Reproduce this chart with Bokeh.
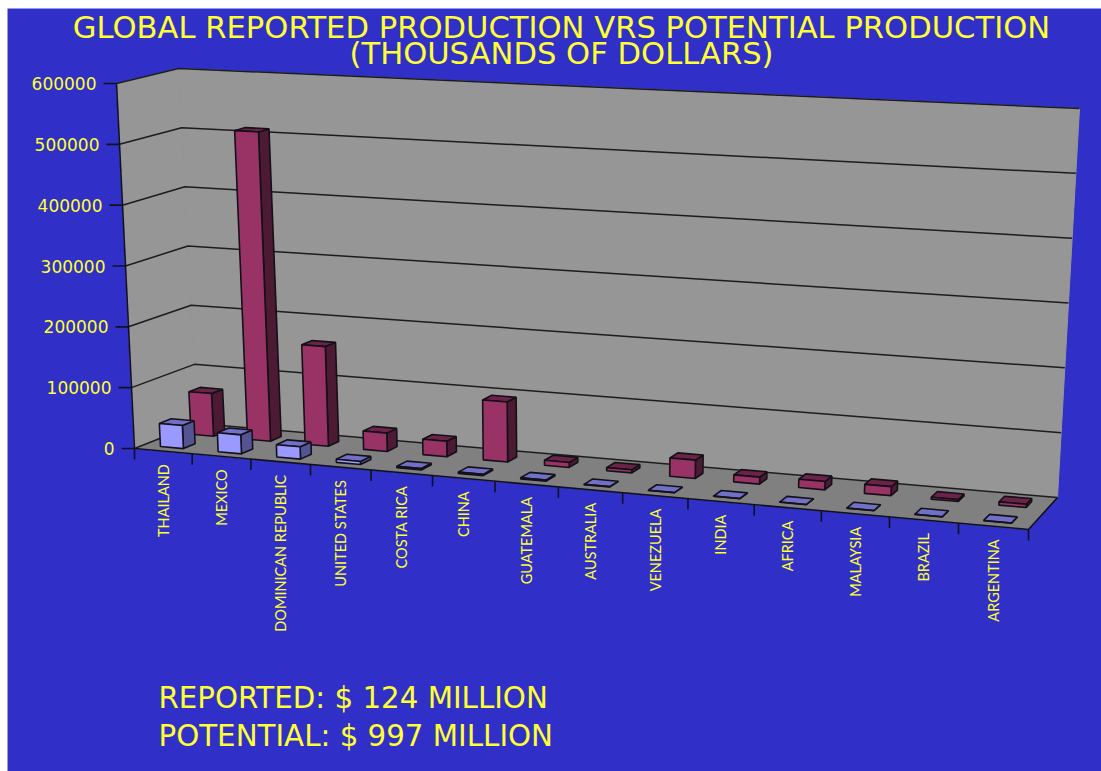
from bokeh.plotting import figure
from bokeh.models import Range1d
from bokeh.core.properties import value
from bokeh.embed import file_html
from bokeh.resources import INLINE

categories = ["THAILAND", "MEXICO", "DOMINICAN REPUBLIC", "UNITED STATES", "COSTA RICA", "CHINA",
              "GUATEMALA", "AUSTRALIA", "VENEZUELA", "INDIA", "AFRICA", "MALAYSIA", "BRAZIL", "ARGENTINA"]
reported = [38000, 31000, 20000, 5000, 2500, 2000, 2000, 500, 300, 300, 300, 300, 300, 300]
potential = [71000, 512000, 164000, 30000, 25000, 97000, 8000, 5000, 29000, 11000, 13000, 14000, 3000, 5000]
y_ticks = [0, 100000, 200000, 300000, 400000, 500000, 600000]
y_max = 600000
title_lines = ["GLOBAL REPORTED PRODUCTION VRS POTENTIAL PRODUCTION", "(THOUSANDS OF DOLLARS)"]
notes = ["REPORTED: $ 124 MILLION", "POTENTIAL: $ 997 MILLION"]

BG, YEL = "#3030c8", "#ffff33"
W, H = 1101, 771
L, T = 7, 8
# projection of the chart box onto the page: (u along categories, v depth, w value fraction)
FLB, FRB = (134, 448), (1028, 529)
BLB, BRB = (197, 423), (1057, 497)
FLT, BLT, BRT = (116, 83), (178, 68), (1079, 108)
FRT = tuple(FRB[i] + (FLT[i] - FLB[i]) + (BRT[i] - BRB[i]) - (BLT[i] - BLB[i]) for i in (0, 1))


def warp(u):
    return 0.8965 * u + 0.1035 * u * u


def P(k, v, val):
    s = warp(k / len(categories))
    w = val / y_max
    out = []
    for i in (0, 1):
        b = (1 - s) * ((1 - v) * FLB[i] + v * BLB[i]) + s * ((1 - v) * FRB[i] + v * BRB[i])
        t = (1 - s) * ((1 - v) * FLT[i] + v * BLT[i]) + s * ((1 - v) * FRT[i] + v * BRT[i])
        out.append(b + (t - b) * w)
    return out


def poly(points):
    return [q[0] for q in points], [q[1] for q in points]


p = figure(width=W, height=H, x_range=Range1d(L, W), y_range=Range1d(H, T),
           output_backend="svg", toolbar_location=None,
           min_border_left=L, min_border_top=T, min_border_right=0, min_border_bottom=0,
           background_fill_color=BG, border_fill_color="#ffffff", outline_line_color=None)
p.axis.visible = False
p.grid.visible = False

n = len(categories)


def draw(points, fill, line=None, width=1.6):
    xs, ys = poly(points)
    p.patch(xs, ys, fill_color=fill, line_color=line, line_width=width)


# walls and floor
draw([P(0, 0, 0), P(0, 1, 0), P(n, 1, 0), P(n, 0, 0)], "#808080", "#808080", 1)
draw([P(0, 0, 0), P(0, 1, 0), P(0, 1, y_max), P(0, 0, y_max)], "#969696", "#969696", 1)
draw([P(0, 1, 0), P(n, 1, 0), P(n, 1, y_max), P(0, 1, y_max)], "#969696", "#969696", 1)

# gridlines
gx, gy = [], []
for t in y_ticks:
    xs, ys = poly([P(0, 0, t), P(0, 1, t), P(n, 1, t)])
    gx.append(xs)
    gy.append(ys)
p.multi_line(gx, gy, line_color="#1c1c1c", line_width=1.5)

# axis lines and tick marks
ax, ay = [], []
ax.append([P(0, 0, 0)[0], P(0, 0, y_max)[0]])
ay.append([P(0, 0, 0)[1], P(0, 0, y_max)[1]])
ax.append([P(0, 0, 0)[0], P(n, 0, 0)[0], P(n, 1, 0)[0]])
ay.append([P(0, 0, 0)[1], P(n, 0, 0)[1], P(n, 1, 0)[1]])
for k in range(n + 1):
    q = P(k, 0, 0)
    ax.append([q[0], q[0]])
    ay.append([q[1], q[1] + 11])
for t in y_ticks:
    q = P(0, 0, t)
    ax.append([q[0] - 13, q[0]])
    ay.append([q[1], q[1]])
p.multi_line(ax, ay, line_color="#101020", line_width=1.6)


def bars(vals, v0, v1, front, top, side):
    for k, val in enumerate(vals):
        a, b = k + 0.3, k + 0.7
        draw([P(b, v0, 0), P(b, v1, 0), P(b, v1, val), P(b, v0, val)], side, "#141018")
        draw([P(a, v0, val), P(b, v0, val), P(b, v1, val), P(a, v1, val)], top, "#141018")
        draw([P(a, v0, 0), P(b, v0, 0), P(b, v0, val), P(a, v0, val)], front, "#141018")


bars(potential, 0.63, 0.81, "#993366", "#6b2447", "#4d1a33")
bars(reported, 0.14, 0.33, "#9999ff", "#7070c8", "#545494")

# y tick labels
p.text([P(0, 0, t)[0] - 20 for t in y_ticks], [P(0, 0, t)[1] for t in y_ticks], text=[str(t) for t in y_ticks],
       text_color=YEL, text_font=value("DejaVu Sans"), text_font_size="17px",
       text_align="right", text_baseline="middle")

# category labels
p.text([P(k + 0.5, 0, 0)[0] for k in range(n)], [P(k + 0.5, 0, 0)[1] + 13 for k in range(n)], text=categories,
       angle=1.5708, text_color=YEL, text_font=value("Lato"), text_font_size="14.5px",
       text_align="right", text_baseline="middle")

# title and notes
p.text([561, 561], [27, 53], text=title_lines, text_color=YEL, text_font=value("DejaVu Sans"),
       text_font_size="30.6px", text_align="center", text_baseline="middle")
p.text([158, 158], [697, 735], text=notes, text_color=YEL, text_font=value("DejaVu Sans"),
       text_font_size="29.3px", text_align="left", text_baseline="middle")

open("out.html", "w").write(file_html(p, INLINE))
